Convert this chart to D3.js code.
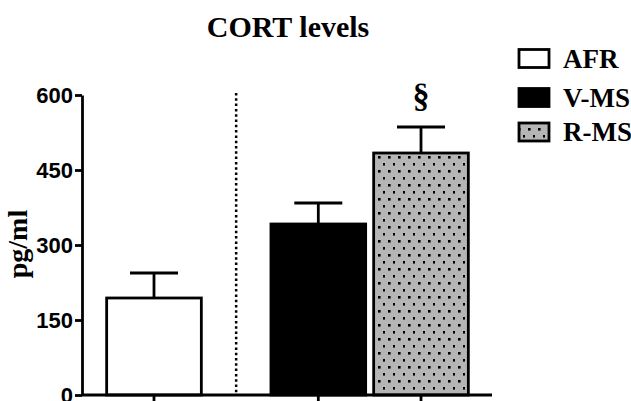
<!DOCTYPE html>
<html><head><meta charset="utf-8">
<script src="https://cdn.jsdelivr.net/npm/d3@7"></script>
<style>html,body{margin:0;padding:0;background:#fff;}svg{display:block;}</style>
</head><body>
<script>
const categories = ["AFR", "V-MS", "R-MS"];
const means = [194, 342, 484];
const sems = [50, 42, 52];
const yTicks = [0, 150, 300, 450, 600];
const title = "CORT levels";
const yLabel = "pg/ml";
const marks = ["", "", "§"];

const W = 631, H = 401;
const svg = d3.select("body").append("svg").attr("width", W).attr("height", H);
const defs = svg.append("defs");
const pat = defs.append("pattern").attr("id","dots").attr("patternUnits","userSpaceOnUse")
  .attr("width",10).attr("height",14).attr("x",375).attr("y",153);
pat.append("rect").attr("width",10).attr("height",14).attr("fill","#b5b5b5");
pat.append("rect").attr("x",3).attr("y",3).attr("width",2.6).attr("height",2.6).attr("fill","#000");
pat.append("rect").attr("x",8).attr("y",10).attr("width",2.6).attr("height",2.6).attr("fill","#000");

const fills = ["#fff", "#000", "url(#dots)"];
const slots = [0, 1.6, 2.6];
const x = d3.scaleLinear().domain([0, 2.6]).range([154, 421]);
const barW = x(0.922) - x(0);
const y = d3.scaleLinear().domain([0, 600]).range([395, 95]);

// title
svg.append("text").attr("x", 288).attr("y", 37).attr("text-anchor","middle")
  .attr("font-family","Liberation Serif").attr("font-weight","bold").attr("font-size",30)
  .text(title);

// y axis
const yAxis = svg.append("g").attr("transform","translate(82,0)")
  .call(d3.axisLeft(y).tickValues(yTicks).tickSize(7).tickPadding(2).tickSizeOuter(0));
yAxis.select(".domain").attr("stroke","#000").attr("stroke-width",2.8);
yAxis.selectAll(".tick line").attr("stroke","#000").attr("stroke-width",2.8);
yAxis.selectAll(".tick text").attr("font-family","Liberation Sans").attr("font-weight","bold")
  .attr("font-size",22).attr("fill","#000").attr("dy","0.36em");

svg.append("text").attr("transform","translate(27,244) rotate(-90)").attr("text-anchor","middle")
  .attr("font-family","Liberation Serif").attr("font-weight","bold").attr("font-size",28)
  .text(yLabel);

// divider
svg.append("line").attr("x1", x(0.8)).attr("x2", x(0.8)).attr("y1", 93).attr("y2", 395)
  .attr("stroke","#000").attr("stroke-width",2.5).attr("stroke-dasharray","2.5,2.8");

// bars
const g = svg.append("g");
categories.forEach((c, i) => {
  const cx = x(slots[i]);
  g.append("line").attr("x1",cx).attr("x2",cx).attr("y1",y(means[i])).attr("y2",y(means[i]+sems[i]))
    .attr("stroke","#000").attr("stroke-width",2.8);
  g.append("line").attr("x1",cx-24).attr("x2",cx+24).attr("y1",y(means[i]+sems[i])).attr("y2",y(means[i]+sems[i]))
    .attr("stroke","#000").attr("stroke-width",2.8);
  g.append("rect").attr("x",cx-barW/2).attr("y",y(means[i])).attr("width",barW)
    .attr("height",y(0)-y(means[i])).attr("fill",fills[i]).attr("stroke","#000").attr("stroke-width",2.8);
  if (marks[i]) {
    g.append("text").attr("x",cx).attr("y",y(means[i]+sems[i])-20).attr("text-anchor","middle")
      .attr("font-family","Liberation Serif").attr("font-weight","bold").attr("font-size",34).text(marks[i]);
  }
});

// x axis
svg.append("line").attr("x1",82).attr("x2",492).attr("y1",395).attr("y2",395)
  .attr("stroke","#000").attr("stroke-width",2.8);
categories.forEach((c,i)=>{
  svg.append("line").attr("x1",x(slots[i])).attr("x2",x(slots[i])).attr("y1",395).attr("y2",403)
    .attr("stroke","#000").attr("stroke-width",2.8);
});

// legend
const lg = svg.append("g");
const legY = [58.5, 97.5, 132];
categories.forEach((c,i)=>{
  lg.append("rect").attr("x",519).attr("y",legY[i]-9).attr("width",30).attr("height",18)
    .attr("fill",fills[i]).attr("stroke","#000").attr("stroke-width",2.8);
  lg.append("text").attr("x",563).attr("y",legY[i]+9)
    .attr("font-family","Liberation Serif").attr("font-weight","bold").attr("font-size",27).text(c);
});
</script>
</body></html>
